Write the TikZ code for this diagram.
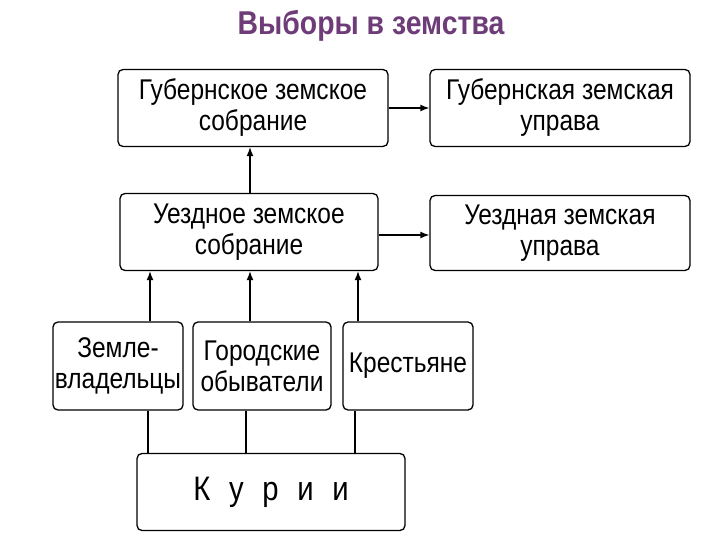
\documentclass[tikz,border=0pt]{standalone}
\usepackage{fontspec}
\setmainfont{Liberation Sans}[FakeStretch=0.86]
\usetikzlibrary{arrows.meta}
\definecolor{ttl}{RGB}{110,60,120}
\begin{document}
\begin{tikzpicture}[x=1pt,y=-1pt,
  box/.style={draw,line width=1.3pt,rounded corners=5pt,inner sep=0pt,align=center,font=\fontsize{28.5}{31}\selectfont},
  arr/.style={line width=1.3pt,-{Latex[length=9pt,width=7pt]}},
  ln/.style={line width=1.3pt}]
\useasboundingbox (0,0) rectangle (720,540);
\node[font=\fontsize{33}{36}\selectfont\bfseries,text=ttl] (t) at (371,26) {Выборы в земства};
\node[box,minimum width=270pt,minimum height=77pt] (gs) at (253,108) {Губернское земское\\собрание};
\node[box,minimum width=260pt,minimum height=77pt] (gu) at (560,108) {Губернская земская\\управа};
\node[box,minimum width=258pt,minimum height=77pt] (us) at (249,232) {Уездное земское\\собрание};
\node[box,minimum width=260pt,minimum height=75pt] (uu) at (560,233) {Уездная земская\\управа};
\node[box,minimum width=130pt,minimum height=88pt] (z) at (118,366) {Земле-\\владельцы};
\node[box,minimum width=138pt,minimum height=88pt] (g) at (262,366) {Городские\\обыватели};
\node[box,minimum width=130pt,minimum height=88pt] (k) at (408,366) {Крестьяне};
\node[box,minimum width=268pt,minimum height=77pt,font=\fontsize{34}{38}\selectfont] (c) at (271,492) {К\hspace{0.55em}у\hspace{0.55em}р\hspace{0.55em}и\hspace{0.55em}и};
\draw[arr] (gs.east) -- (gu.west);
\draw[arr] (us.east |- 0,235) -- (uu.west |- 0,235);
\draw[arr] (us.north -| 250,0) -- (gs.south -| 250,0);
\draw[arr] (z.north -| 150,0) -- (us.south -| 150,0);
\draw[arr] (g.north -| 250,0) -- (us.south -| 250,0);
\draw[arr] (k.north -| 358,0) -- (us.south -| 358,0);
\draw[ln] (c.north -| 148,0) -- (z.south -| 148,0);
\draw[ln] (c.north -| 246,0) -- (g.south -| 246,0);
\draw[ln] (c.north -| 355,0) -- (k.south -| 355,0);
\end{tikzpicture}
\end{document}
